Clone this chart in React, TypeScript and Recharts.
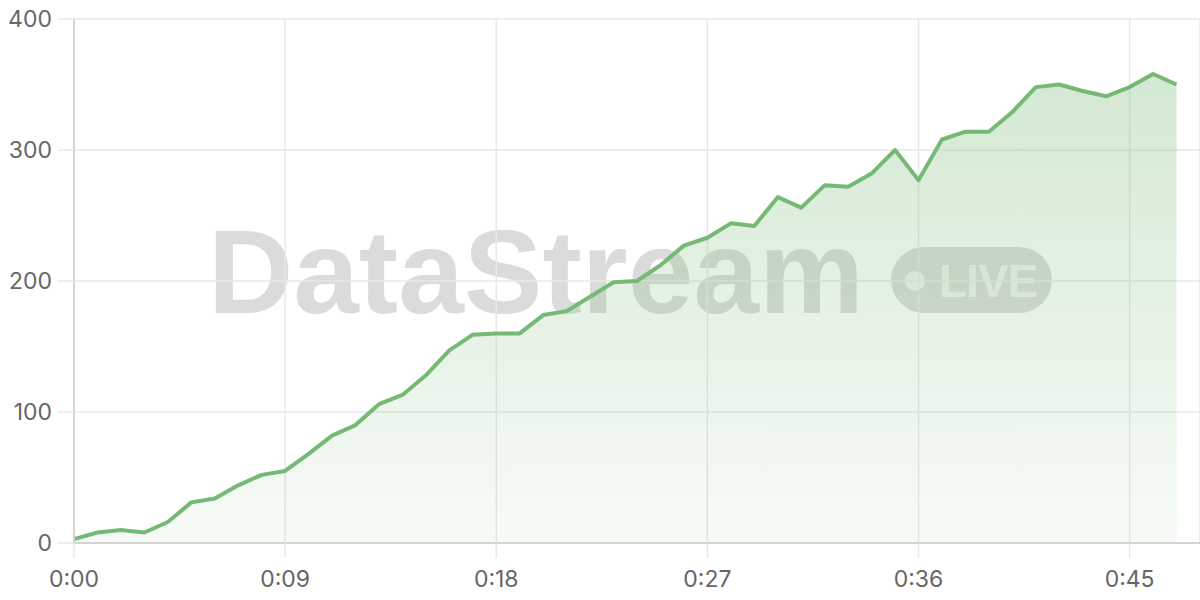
import React from 'react'
import { AreaChart, Area, XAxis, YAxis, CartesianGrid } from 'recharts'

// elapsed seconds since stream start
const seconds = [
  0, 1, 2, 3, 4, 5, 6, 7, 8, 9, 10, 11, 12, 13, 14, 15,
  16, 17, 18, 19, 20, 21, 22, 23, 24, 25, 26, 27, 28, 29, 30, 31,
  32, 33, 34, 35, 36, 37, 38, 39, 40, 41, 42, 43, 44, 45, 46, 47,
]

const values = [
  3, 8, 10, 8, 16, 31, 34, 44, 52, 55, 68, 82, 90, 106, 113, 128,
  147, 159, 160, 160, 174, 177, 188, 199, 200, 212, 227, 233, 244, 242, 264, 256,
  273, 272, 282, 300, 277, 308, 314, 314, 329, 348, 350, 345, 341, 348, 358, 350,
]

const xTicks = [0, 9, 18, 27, 36, 45]
const yTicks = [0, 100, 200, 300, 400]

const data = seconds.map((t, i) => ({ t, value: values[i] }))

const fmtTime = (t: number) => `${Math.floor(t / 60)}:${String(t % 60).padStart(2, '0')}`

const GREEN = '#76b974'
const GRID = '#e8e8e8'
const AXIS = '#d4d4d4'
const tickStyle = { fill: '#666', fontSize: 23, fontFamily: 'Inter, "Noto Sans", sans-serif' }

function Watermark() {
  return (
    <svg width={1200} height={600} style={{ position: 'absolute', left: 0, top: 0 }}>
      <text
        x={208}
        y={313}
        fontFamily='"Liberation Sans", Arial, sans-serif'
        fontWeight={700}
        fontSize={118}
        fill="rgba(0,0,0,0.14)"
      >
        DataStream
      </text>
      <rect x={891} y={247} width={161} height={66} rx={33} fill="rgba(0,0,0,0.14)" />
      <circle cx={915} cy={281} r={10} fill="rgba(255,255,255,0.65)" />
      <text
        x={939}
        y={297}
        fontFamily='"Liberation Sans", Arial, sans-serif'
        fontWeight={700}
        fontSize={46}
        letterSpacing={-1}
        fill="rgba(255,255,255,0.65)"
      >
        LIVE
      </text>
    </svg>
  )
}

export default function App() {
  return (
    <div style={{ position: 'absolute', left: 0, top: 0, width: 1200, height: 600, background: '#fff' }}>
      <Watermark />
      <div style={{ position: 'absolute', left: 0, top: 0 }}>
        <AreaChart width={1200} height={600} data={data} margin={{ top: 19, right: 0, bottom: 0, left: 0 }}>
          <defs>
            <linearGradient id="fillGreen" x1="0" y1="0" x2="0" y2="1">
              <stop offset="0%" stopColor={GREEN} stopOpacity={0.32} />
              <stop offset="100%" stopColor={GREEN} stopOpacity={0.06} />
            </linearGradient>
          </defs>
          <CartesianGrid stroke={GRID} strokeWidth={1.5} />
          <XAxis
            dataKey="t"
            type="number"
            domain={[0, 48]}
            ticks={xTicks}
            tickFormatter={fmtTime}
            height={57}
            tickSize={15}
            tickMargin={13}
            tick={tickStyle}
            tickLine={{ stroke: GRID, strokeWidth: 1.5 }}
            axisLine={{ stroke: AXIS, strokeWidth: 2 }}
          />
          <YAxis
            domain={[0, 400]}
            ticks={yTicks}
            width={74}
            tickSize={16}
            tickMargin={6}
            tick={tickStyle}
            tickLine={{ stroke: GRID, strokeWidth: 1.5 }}
            axisLine={{ stroke: AXIS, strokeWidth: 2 }}
          />
          <Area
            type="linear"
            dataKey="value"
            stroke={GREEN}
            strokeWidth={4}
            strokeLinejoin="round"
            fill="url(#fillGreen)"
            fillOpacity={1}
            dot={false}
            activeDot={false}
            isAnimationActive={false}
          />
        </AreaChart>
      </div>
    </div>
  )
}
